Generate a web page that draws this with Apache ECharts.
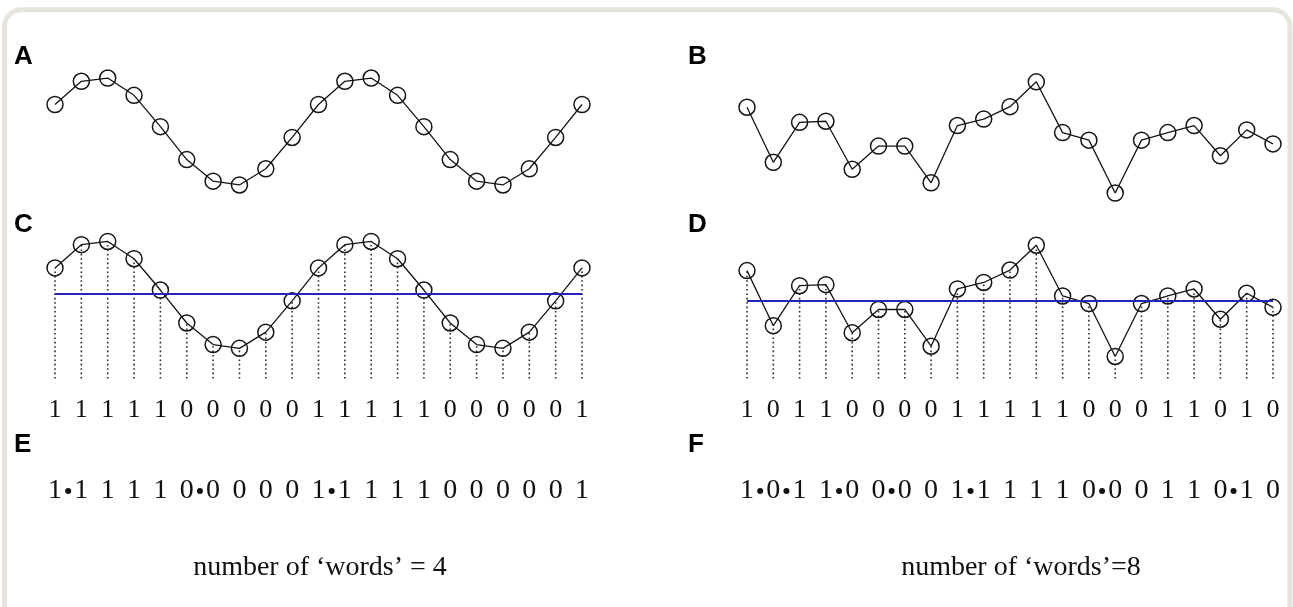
<!DOCTYPE html>
<html>
<head>
<meta charset="utf-8">
<style>
  html, body { margin: 0; padding: 0; background: #fff; }
  #chart { width: 1293px; height: 607px; }
</style>
<script src="https://cdn.jsdelivr.net/npm/echarts@6/dist/echarts.min.js"></script>
</head>
<body>
<div id="chart"></div>
<script>
// 左边：正弦序列 (A/C/E)，右边：噪声序列 (B/D/F)
var steps = [0, 1, 2, 3, 4, 5, 6, 7, 8, 9, 10, 11, 12, 13, 14, 15, 16, 17, 18, 19, 20];
var sineValues = [0.5, 0.93, 0.99, 0.67, 0.09, -0.52, -0.92, -0.99, -0.69, -0.11,
                  0.5, 0.93, 0.99, 0.67, 0.09, -0.52, -0.92, -0.99, -0.69, -0.11, 0.5];
var noiseValues = [0.45, -0.57, 0.17, 0.19, -0.70, -0.27, -0.27, -0.95, 0.11, 0.23,
                   0.46, 0.92, -0.02, -0.16, -1.14, -0.16, -0.02, 0.11, -0.45, 0.03, -0.23];
var sineBits  = ['1','1','1','1','1','0','0','0','0','0','1','1','1','1','1','0','0','0','0','0','1'];
var noiseBits = ['1','0','1','1','0','0','0','0','1','1','1','1','1','0','0','0','1','1','0','1','0'];
// 圆点出现在这些位置之后
var sineBreaks  = [0, 5, 10];
var noiseBreaks = [0, 1, 3, 5, 8, 13, 18];
var panelLetters = ['A', 'B', 'C', 'D', 'E', 'F'];
var wordCounts = ['number of \u2018words\u2019 = 4', 'number of \u2018words\u2019=8'];

(function () {
    var chart = echarts.init(document.getElementById('chart'));
    var ink = '#151515';
    var serif = '"Liberation Serif", "DejaVu Serif", serif';
    var stemBase = -1.55;

    function mean(arr) {
        var s = 0;
        arr.forEach(function (v) { s += v; });
        return s / arr.length;
    }
    function pairs(vals) {
        return steps.map(function (x, i) { return [x, vals[i]]; });
    }

    // 版面：左右两列，上中下三行
    var cols = [{ left: 55, width: 527 }, { left: 747, width: 526 }];
    var rows = [{ top: 66.7, height: 129.6 }, { top: 230.1, height: 148.5 }, { top: 481, height: 20 }];
    var yRange = [[-1.2, 1.2], [stemBase, 1.2], [-1, 1]];

    var grids = [], xAxes = [], yAxes = [];
    rows.forEach(function (r, ri) {
        cols.forEach(function (c, ci) {
            var idx = grids.length;
            grids.push({ left: c.left, width: c.width, top: r.top, height: r.height, outerBoundsMode: 'none' });
            var bits = ci === 0 ? sineBits : noiseBits;
            xAxes.push({
                type: 'value', gridIndex: idx, min: 0, max: 20, interval: 1,
                show: ri === 1,
                axisLine: { show: false }, axisTick: { show: false }, splitLine: { show: false },
                axisLabel: {
                    show: ri === 1, margin: 19, showMinLabel: true, showMaxLabel: true, hideOverlap: false,
                    fontFamily: serif, fontSize: 26, color: '#111',
                    formatter: function (v) { return bits[Math.round(v)]; }
                }
            });
            yAxes.push({ type: 'value', gridIndex: idx, min: yRange[ri][0], max: yRange[ri][1], show: false });
        });
    });

    function lineSeries(idx, vals, withMean) {
        var s = {
            type: 'line', xAxisIndex: idx, yAxisIndex: idx, data: pairs(vals),
            symbol: 'circle', symbolSize: 16, showAllSymbol: true, silent: true,
            itemStyle: { color: 'transparent', borderColor: ink, borderWidth: 1.5 },
            lineStyle: { color: ink, width: 1.3 },
            emphasis: { disabled: true }, z: 3
        };
        if (withMean) {
            s.markLine = {
                silent: true, symbol: 'none', label: { show: false },
                lineStyle: { color: '#2323bd', width: 2, type: 'solid' },
                data: [{ yAxis: mean(vals) }]
            };
        }
        return s;
    }

    // 虚线竖线：从点落到底部
    function stemSeries(idx, vals) {
        return {
            type: 'custom', xAxisIndex: idx, yAxisIndex: idx, data: pairs(vals), silent: true, z: 2,
            renderItem: function (params, api) {
                var p1 = api.coord([api.value(0), api.value(1)]);
                var p2 = api.coord([api.value(0), stemBase]);
                return {
                    type: 'line',
                    shape: { x1: p2[0], y1: p2[1], x2: p1[0], y2: p1[1] },
                    style: { stroke: '#2a2a2a', lineWidth: 1.6, lineDash: [1.6, 2.8] }
                };
            }
        };
    }

    function digitSeries(idx, bits) {
        return {
            type: 'scatter', xAxisIndex: idx, yAxisIndex: idx, silent: true,
            data: steps.map(function (x) { return [x, 0]; }),
            symbol: 'circle', symbolSize: 2, itemStyle: { color: 'transparent', opacity: 1 },
            label: {
                show: true, position: 'inside', fontFamily: serif, fontSize: 28, color: '#111',
                opacity: 1, textBorderWidth: 0,
                formatter: function (p) { return bits[p.dataIndex]; }
            }
        };
    }

    function bulletSeries(idx, breaks) {
        return {
            type: 'scatter', xAxisIndex: idx, yAxisIndex: idx, silent: true,
            data: breaks.map(function (b) { return [b + 0.5, 0]; }),
            symbol: 'circle', symbolSize: 6, itemStyle: { color: '#111', opacity: 1 }
        };
    }

    var series = [
        lineSeries(0, sineValues, false),
        lineSeries(1, noiseValues, false),
        stemSeries(2, sineValues),
        lineSeries(2, sineValues, true),
        stemSeries(3, noiseValues),
        lineSeries(3, noiseValues, true),
        digitSeries(4, sineBits),
        bulletSeries(4, sineBreaks),
        digitSeries(5, noiseBits),
        bulletSeries(5, noiseBreaks)
    ];

    // 面板字母和底部文字
    var letterPos = [[14, 57], [688, 57], [14, 225], [688, 225], [14, 445], [688, 445]];
    var graphics = [{
        type: 'rect', silent: true, z: -10,
        shape: { x: 4.5, y: 9.8, width: 1285.5, height: 660, r: 17 },
        style: { fill: '#fff', stroke: '#e7e4de', lineWidth: 5 }
    }];
    panelLetters.forEach(function (t, i) {
        graphics.push({
            type: 'text', silent: true, x: letterPos[i][0], y: letterPos[i][1],
            style: {
                text: t, fill: '#000', align: 'left', verticalAlign: 'middle',
                font: 'bold 26px "Liberation Sans", Arial, sans-serif'
            }
        });
    });
    wordCounts.forEach(function (t, i) {
        graphics.push({
            type: 'text', silent: true, x: [320, 1021][i], y: 568,
            style: {
                text: t, fill: '#111', align: 'center', verticalAlign: 'middle',
                font: '28px ' + serif
            }
        });
    });

    var option = {
        animation: false,
        backgroundColor: '#fff',
        grid: grids,
        xAxis: xAxes,
        yAxis: yAxes,
        series: series,
        graphic: graphics
    };
    chart.setOption(option);
})();
</script>
</body>
</html>
